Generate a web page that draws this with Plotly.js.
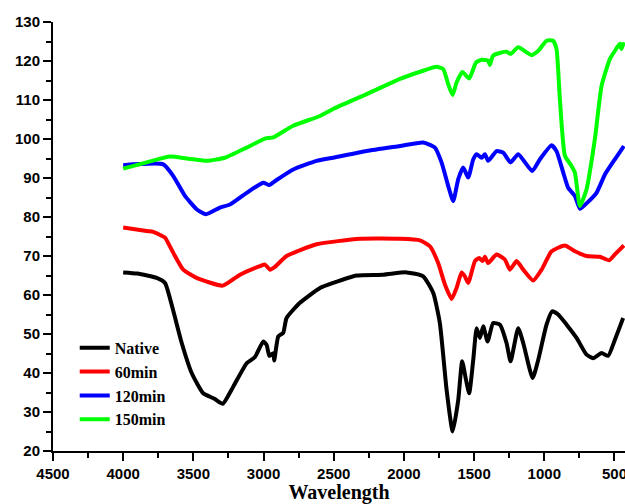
<!DOCTYPE html>
<html>
<head>
<meta charset="utf-8">
<script src="https://cdn.plot.ly/plotly-3.0.1.min.js"></script>
<style>html,body{margin:0;padding:0;background:#fff;}#chart{width:625px;height:504px;}</style>
</head>
<body>
<div id="chart"></div>
<script>
const seriesNames = ["Native", "60min", "120min", "150min"];
const seriesColors = ["#000000", "#ff0000", "#0000ff", "#00ff00"];

const nativeX = [4000, 3900, 3761, 3702, 3645, 3583, 3512, 3430, 3350, 3291, 3216, 3120, 3061, 3002, 2978, 2959, 2931, 2924, 2895, 2860, 2836, 2741, 2598, 2504, 2337, 2147, 1981, 1863, 1791, 1744, 1696, 1653, 1613, 1585, 1558, 1535, 1506, 1482, 1459, 1435, 1404, 1364, 1316, 1269, 1240, 1186, 1150, 1083, 1043, 984, 944, 901, 841, 770, 699, 652, 592, 545, 497, 438];
const nativeY = [65.8, 65.5, 64.4, 63.1, 56.2, 47.7, 40, 34.8, 33.4, 32.1, 36.5, 42.5, 44.1, 48.1, 47.2, 44.4, 45.1, 43.2, 49.4, 50.3, 54.1, 58, 61.8, 63.1, 65, 65.2, 65.8, 64.8, 60.5, 52.8, 35.7, 25, 33.1, 43, 38.3, 34.8, 43.4, 51.5, 49, 52, 48.1, 52.8, 52.4, 47.7, 43, 51.5, 47.7, 38.7, 43.4, 52.4, 55.8, 55, 52.4, 49, 44.7, 43.8, 45.1, 44.4, 48.5, 54.1];

const min60X = [4000, 3833, 3786, 3726, 3702, 3643, 3572, 3477, 3291, 3168, 3026, 2990, 2954, 2919, 2836, 2622, 2313, 2028, 1886, 1815, 1756, 1708, 1660, 1625, 1589, 1566, 1542, 1494, 1464, 1440, 1423, 1400, 1340, 1281, 1245, 1197, 1150, 1079, 1019, 948, 853, 781, 699, 604, 538, 497, 433];
const min60Y = [77.3, 76.4, 76.2, 75.2, 74.7, 70.8, 66.5, 64.4, 62.4, 65.2, 67.4, 67.8, 66.5, 67.2, 70, 73, 74.4, 74.4, 74, 72.5, 68.2, 62.7, 59, 61.8, 65.8, 64.8, 63.1, 68.7, 69.5, 68.7, 69.8, 68.2, 70.4, 69.1, 66.5, 68.7, 66.5, 63.7, 66.5, 71.2, 72.7, 71.2, 70, 69.8, 68.9, 70.4, 72.7];

const min120X = [4000, 3714, 3643, 3560, 3477, 3410, 3311, 3239, 3120, 3002, 2959, 2919, 2789, 2622, 2504, 2266, 2028, 1863, 1779, 1732, 1685, 1649, 1613, 1578, 1542, 1506, 1482, 1447, 1423, 1400, 1340, 1293, 1240, 1186, 1086, 1031, 948, 913, 865, 830, 782, 746, 699, 628, 568, 497, 433];
const min120Y = [93.3, 93.5, 90.5, 85.4, 82, 80.7, 82.4, 83.2, 86.2, 88.8, 88.2, 89.2, 92.2, 94.4, 95.2, 96.9, 98.2, 99.1, 97.8, 94, 88, 84.1, 89.7, 92.7, 90.1, 94.8, 96.1, 95.2, 96.1, 94.4, 96.9, 96.5, 94, 96.1, 91.8, 94.8, 98.4, 96.9, 91.4, 87.5, 85.4, 82.1, 83.5, 86.2, 90.9, 94.8, 98.2];

const min150X = [4000, 3833, 3667, 3548, 3405, 3275, 3120, 2990, 2931, 2789, 2598, 2504, 2266, 2028, 1863, 1767, 1720, 1685, 1653, 1625, 1583, 1535, 1487, 1447, 1400, 1388, 1364, 1269, 1240, 1186, 1091, 1043, 984, 937, 913, 889, 853, 806, 782, 746, 699, 640, 592, 533, 497, 462, 450, 433];
const min150Y = [92.4, 94, 95.5, 95, 94.4, 95.2, 97.8, 100.1, 100.4, 103.4, 105.9, 107.7, 111.5, 115.4, 117.5, 118.5, 117.9, 114.1, 111.3, 114.5, 117.2, 115.5, 119.6, 120.3, 120.1, 119, 121.4, 122.4, 121.8, 123.5, 121.5, 122.6, 125.2, 125.2, 123.1, 110.2, 95.7, 93.1, 91.4, 82.8, 87.1, 99.9, 113.6, 120.5, 122.6, 124.4, 123.1, 124.8];

const xs = [nativeX, min60X, min120X, min150X];
const ys = [nativeY, min60Y, min120Y, min150Y];

const traces = seriesNames.map((name, i) => ({
  type: 'scatter', mode: 'lines', name: name,
  x: xs[i], y: ys[i],
  line: {color: seriesColors[i], width: 4, shape: 'spline', smoothing: 0.5}
}));

const tickFont = {family: 'Liberation Sans, Arial, sans-serif', size: 15, color: '#000', weight: 'bold'};

const layout = {
  width: 625, height: 504,
  margin: {l: 53, r: 0, t: 22, b: 53},
  paper_bgcolor: '#fff', plot_bgcolor: '#fff',
  showlegend: true,
  legend: {
    x: 0.038, xanchor: 'left', y: 0.28, yanchor: 'top',
    bgcolor: 'rgba(0,0,0,0)',
    font: {family: 'Liberation Serif, Times New Roman, serif', size: 16, color: '#000', weight: 'bold'},
    tracegroupgap: 0
  },
  xaxis: {
    range: [4500, 425], dtick: 500, tick0: 0,
    showgrid: false, zeroline: false, showline: true, linecolor: '#000', linewidth: 2,
    ticks: 'outside', ticklen: 8, tickwidth: 2, tickcolor: '#000',
    minor: {dtick: 250, ticks: 'outside', ticklen: 5, tickwidth: 2, tickcolor: '#000', showgrid: false},
    tickfont: tickFont, automargin: false, ticklabeloverflow: 'allow',
    title: {text: 'Wavelength', standoff: 8, font: {family: 'Liberation Serif, Times New Roman, serif', size: 20, color: '#000', weight: 'bold'}}
  },
  yaxis: {
    range: [20, 130], dtick: 10, tick0: 0,
    showgrid: false, zeroline: false, showline: true, linecolor: '#000', linewidth: 2,
    ticks: 'outside', ticklen: 8, tickwidth: 2, tickcolor: '#000',
    minor: {dtick: 5, ticks: 'outside', ticklen: 5, tickwidth: 2, tickcolor: '#000', showgrid: false},
    tickfont: tickFont, automargin: false
  }
};

Plotly.newPlot('chart', traces, layout, {displayModeBar: false, staticPlot: true});
</script>
</body>
</html>
